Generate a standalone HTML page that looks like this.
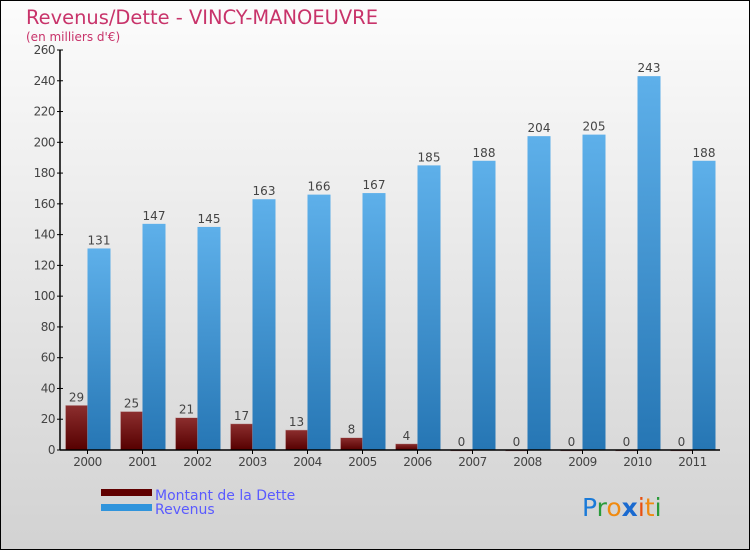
<!DOCTYPE html>
<html><head><meta charset="utf-8"><style>
html,body{margin:0;padding:0;}
body{width:750px;height:550px;overflow:hidden;font-family:"DejaVu Sans","Liberation Sans",sans-serif;}
</style></head><body>
<svg id="chart" width="750" height="550" xmlns="http://www.w3.org/2000/svg">
<defs>
<linearGradient id="bg" x1="0" y1="0" x2="0" y2="1"><stop offset="0" stop-color="#fcfcfc"/><stop offset="1" stop-color="#d2d2d2"/></linearGradient>
<linearGradient id="gRev" x1="0" y1="0" x2="0" y2="1"><stop offset="0" stop-color="#5eb0ea"/><stop offset="1" stop-color="#2676b4"/></linearGradient>
<linearGradient id="gDet" x1="0" y1="0" x2="0" y2="1"><stop offset="0" stop-color="#8c2e2e"/><stop offset="1" stop-color="#560000"/></linearGradient>
</defs>
<rect x="0.5" y="0.5" width="749" height="549" fill="url(#bg)" stroke="#000"/>
<text x="26" y="24" font-size="19.5" fill="#c8336a" font-family="'DejaVu Sans',sans-serif" textLength="352" lengthAdjust="spacingAndGlyphs">Revenus/Dette - VINCY-MANOEUVRE</text>
<text x="26" y="41" font-size="12" fill="#c8336a">(en milliers d'€)</text>
<g id="grid"></g><g id="bars"></g><g id="axes"></g>
<g>
<rect x="101" y="489" width="51" height="7" fill="#600000"/>
<text x="155" y="500" font-size="14" fill="#5a5aff">Montant de la Dette</text>
<rect x="101" y="504" width="51" height="7" fill="#3094dc"/>
<text x="155" y="514" font-size="14" fill="#5a5aff">Revenus</text>
</g>
<g font-size="25" font-family="'DejaVu Sans',sans-serif">
<text x="582" y="516"><tspan fill="#1a7ad8">P</tspan><tspan fill="#2a9a3a">r</tspan><tspan fill="#f08a10">o</tspan><tspan fill="#1a6ad0" font-weight="bold">x</tspan><tspan fill="#e85010">i</tspan><tspan fill="#f08a10">t</tspan><tspan fill="#2a9a3a">i</tspan></text>
</g>
</svg>
<script>
const years=["2000","2001","2002","2003","2004","2005","2006","2007","2008","2009","2010","2011"];
const dette=[29,25,21,17,13,8,4,0,0,0,0,0];
const revenus=[131,147,145,163,166,167,185,188,204,205,243,188];
const yTicks=[0,20,40,60,80,100,120,140,160,180,200,220,240,260];
const NS="http://www.w3.org/2000/svg";
const x0=60,x1=720,y0=450,y1=50,vmax=260;
const band=(x1-x0)/years.length;
const yS=v=>y0-(v/vmax)*(y0-y1);
const xC=i=>x0+band*(i+0.5);
function mk(tag,attrs,parent,txt){const e=document.createElementNS(NS,tag);for(const k in attrs)e.setAttribute(k,attrs[k]);if(txt!==undefined)e.textContent=txt;parent.appendChild(e);return e;}
const axes=document.getElementById('axes'),bars=document.getElementById('bars');
let a=mk('line',{x1:x0,y1:y1,x2:x0,y2:y0,stroke:'#000','stroke-width':1.5},axes);


a=mk('line',{x1:x0,y1:y0,x2:x1,y2:y0,stroke:'#000','stroke-width':1.5},axes);


yTicks.forEach(t=>{const y=yS(t);
 const l=mk('line',{x1:x0-3,y1:y,x2:x0+3,y2:y,stroke:'#000'},axes);
 
 
 const tx=mk('text',{x:x0-5,y:y+4,'font-size':12,fill:'#444','text-anchor':'end','letter-spacing':'-0.5'},axes,t);
 
 
});
years.forEach((yr,i)=>{const c=xC(i);
 const l=mk('line',{x1:c,y1:y0,x2:c,y2:y0+4,stroke:'#000'},axes);
 
 
 const tx=mk('text',{x:c,y:y0+16,'font-size':12,fill:'#444','text-anchor':'middle','letter-spacing':'-0.5'},axes,yr);
 
 
 const yd=yS(dette[i]);
 const bd=mk('rect',{x:c-22,y:yd,width:22,height:Math.max(y0-yd,1),fill:'url(#gDet)',stroke:'#c8b0b0','stroke-width':0.5},bars);
 
 
 const ld=mk('text',{x:c-11,y:yd-4,'font-size':12,fill:'#444','text-anchor':'middle'},bars,dette[i]);
 
 
 const yr2=yS(revenus[i]);
 const br=mk('rect',{x:c,y:yr2,width:23,height:y0-yr2,fill:'url(#gRev)'},bars);
 
 
 const lr=mk('text',{x:c+11.5,y:yr2-4,'font-size':12,fill:'#444','text-anchor':'middle'},bars,revenus[i]);
 
 
});
</script>
</body></html>
